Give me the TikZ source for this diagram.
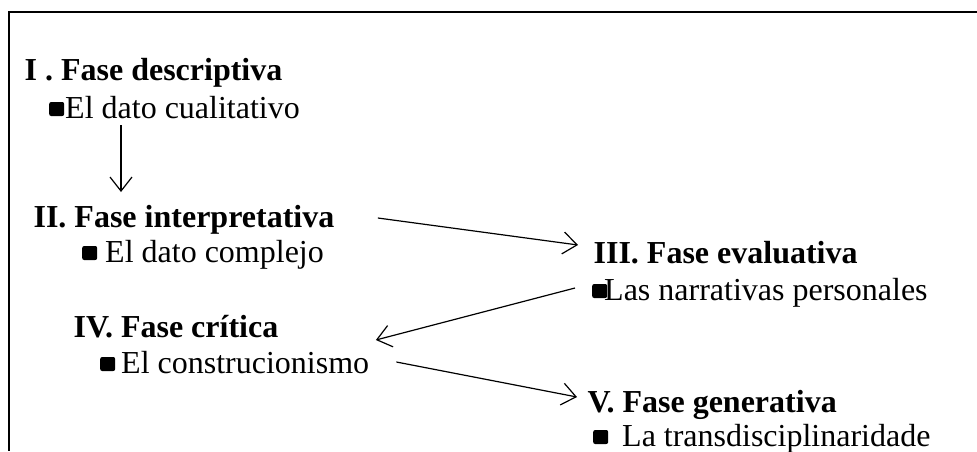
\documentclass[tikz,border=0pt]{standalone}
\usepackage{fontspec}
\setmainfont{Liberation Serif}
\usepackage{tikz}
\usetikzlibrary{arrows.meta, positioning, calc}

\newcommand{\sqbul}{\tikz[baseline=-2pt]\fill[rounded corners=2pt] (0pt,0pt) rectangle (15pt,14pt);}

\begin{document}
\begin{tikzpicture}[x=1pt, y=-1pt, fase/.style={anchor=base west, inner sep=0pt, font=\fontsize{32}{38}\selectfont\bfseries}, dato/.style={anchor=base west, inner sep=0pt, font=\fontsize{32}{38}\selectfont}, ->, >={Straight Barb[length=14pt, width=22pt]}, line width=1.2pt]
        \useasboundingbox (0,0) rectangle (977,451);
        \draw[-] (977,12) -- (9,12) -- (9,451);

        \node[fase] (f1) at (24,80) {I . Fase descriptiva};
        \node[dato] (d1) at (49,118) {\sqbul\hspace{1pt}El dato cualitativo};
        \node[fase] (f2) at (33,227) {II. Fase interpretativa};
        \node[dato] (d2) at (82,262) {\sqbul\hspace{8pt}El dato complejo};
        \node[fase] (f3) at (593,263) {III. Fase evaluativa};
        \node[dato] (d3) at (592,300) {\sqbul\hspace{-3pt}Las narrativas personales};
        \node[fase] (f4) at (73,337) {IV. Fase crítica};
        \node[dato] (d4) at (100,373) {\sqbul\hspace{6pt}El construcionismo};
        \node[fase] (f5) at (587,412) {V. Fase generativa};
        \node[dato] (d5) at (593,446) {\sqbul\hspace{14pt}La transdisciplinaridade};

        \draw ($(d1.base west)+(72,7)$) -- ($(f2.base west)+(88,-35)$);
        \draw ($(f2.base east)+(43,-9)$) -- ($(f3.base west)+(-15,-18)$);
        \draw ($(d3.base west)+(-17,-12)$) -- ($(f4.base east)+(97,3)$);
        \draw ($(d4.base east)+(27,-11)$) -- ($(f5.base west)+(-10,-15)$);
    \end{tikzpicture}
\end{document}
